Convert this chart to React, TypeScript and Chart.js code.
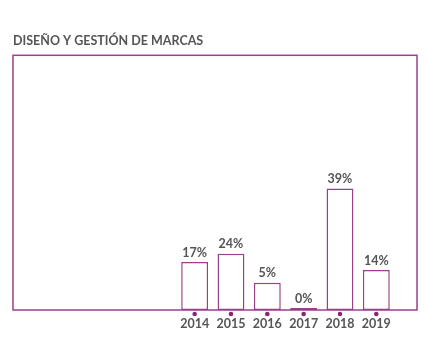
import React, { useEffect, useRef } from "react";
import { Chart, registerables } from "chart.js";

Chart.register(...registerables);

const title = "DISEÑO Y GESTIÓN DE MARCAS";
const years = [2014, 2015, 2016, 2017, 2018, 2019];
const barValues = [18.8, 22.1, 10.7, 0, 47.7, 15.7];
const valueLabels = ["17%", "24%", "5%", "0%", "39%", "14%"];

const PURPLE = "#9a3f8c";
const DOT = "#8a2577";
const TEXT = "#555555";
const FONT = "Lato, 'Open Sans', sans-serif";

const boxPlugin = {
  id: "boxPlugin",
  afterDatasetsDraw(chart: any) {
    const { ctx, chartArea } = chart;
    ctx.save();
    ctx.strokeStyle = PURPLE;
    ctx.lineWidth = 1.5;
    ctx.strokeRect(chartArea.left, chartArea.top, chartArea.right - chartArea.left, chartArea.bottom - chartArea.top);
    ctx.restore();
  },
};

const dotsPlugin = {
  id: "dotsPlugin",
  afterDraw(chart: any) {
    const { ctx, chartArea } = chart;
    const xs = chart.scales.x;
    ctx.save();
    ctx.fillStyle = DOT;
    years.forEach((yr) => {
      const x = xs.getPixelForValue(yr);
      ctx.beginPath();
      ctx.arc(x, chartArea.bottom + 4, 2.3, 0, Math.PI * 2);
      ctx.fill();
    });
    ctx.restore();
  },
};

const valueLabelPlugin = {
  id: "valueLabelPlugin",
  afterDatasetsDraw(chart: any) {
    const { ctx } = chart;
    const meta = chart.getDatasetMeta(0);
    ctx.save();
    ctx.fillStyle = TEXT;
    ctx.font = `bold 12.5px ${FONT}`;
    ctx.textAlign = "center";
    ctx.textBaseline = "middle";
    meta.data.forEach((bar: any, i: number) => {
      ctx.fillText(valueLabels[i], bar.x, bar.y - 9.5);
    });
    ctx.restore();
  },
};

export default function App() {
  const canvasRef = useRef<HTMLCanvasElement | null>(null);

  useEffect(() => {
    if (!canvasRef.current) return;
    const chart = new Chart(canvasRef.current, {
      type: "bar",
      data: {
        datasets: [
          {
            data: years.map((y, i) => ({ x: y, y: barValues[i] })),
            backgroundColor: "#ffffff",
            borderColor: PURPLE,
            borderWidth: 1.5,
            borderSkipped: false,
            minBarLength: 2,
            barPercentage: 0.74,
            categoryPercentage: 1,
          },
        ],
      },
      options: {
        animation: false,
        responsive: true,
        maintainAspectRatio: false,
        layout: { padding: { left: 13, right: 9, top: 0, bottom: 14 } },
        plugins: {
          legend: { display: false },
          tooltip: { enabled: false },
          title: {
            display: true,
            text: title,
            align: "start",
            color: TEXT,
            font: { family: FONT, size: 12.5, weight: "bold" },
            padding: { top: 33, bottom: 7.3 },
          },
        },
        scales: {
          x: {
            type: "linear",
            offset: false,
            bounds: "data",
            min: 2009,
            max: 2020.12,
            grid: { display: false, drawTicks: false, offset: false },
            border: { display: false },
            afterBuildTicks: (scale: any) => {
              scale.ticks = years.map((v) => ({ value: v }));
            },
            ticks: {
              color: TEXT,
              padding: 6,
              maxRotation: 0,
              autoSkip: false,
              font: { family: FONT, size: 12.5, weight: "bold" },
              callback: (v: any) => String(v),
            },
          },
          y: {
            display: false,
            min: 0,
            max: 100,
          },
        },
      },
      plugins: [boxPlugin, valueLabelPlugin, dotsPlugin],
    });
    return () => chart.destroy();
  }, []);

  return (
    <div style={{ position: "fixed", left: 0, top: 0, width: 426, height: 351, background: "#ffffff" }}>
      <canvas ref={canvasRef} />
    </div>
  );
}
